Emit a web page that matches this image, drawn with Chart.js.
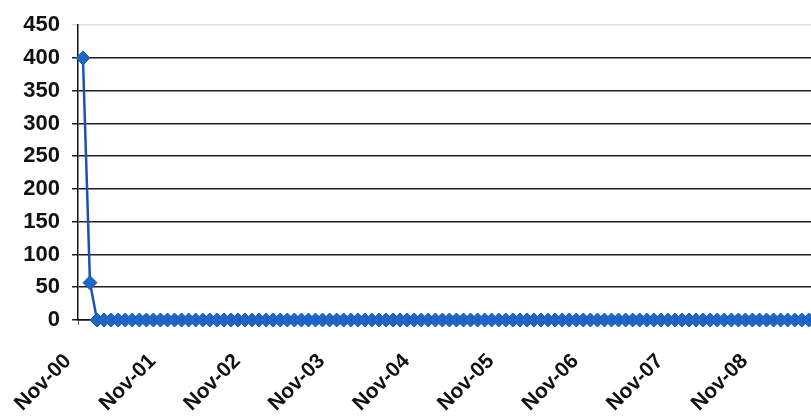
<!DOCTYPE html>
<html>
<head>
<meta charset="utf-8">
<script src="https://cdn.jsdelivr.net/npm/chart.js@4/dist/chart.umd.min.js"></script>
<style>
  html, body { margin: 0; padding: 0; background: #ffffff; overflow: hidden; }
  #wrap { width: 826px; height: 416px; position: relative; }
</style>
</head>
<body>
<div id="wrap"><canvas id="chart"></canvas></div>
<script>
// Yearly tick labels, one every 12 months starting Nov-00 (month index 0)
const tickLabels = ['Nov-00', 'Nov-01', 'Nov-02', 'Nov-03', 'Nov-04', 'Nov-05', 'Nov-06', 'Nov-07', 'Nov-08'];
const tickMonths = [0, 12, 24, 36, 48, 60, 72, 84, 96];

// Monthly readings, first one taken in late Nov-00
const readingDay = 22;
const values = [
  400, 57, 0, 0, 0, 0, 0, 0, 0, 0, 0, 0,
  0, 0, 0, 0, 0, 0, 0, 0, 0, 0, 0, 0,
  0, 0, 0, 0, 0, 0, 0, 0, 0, 0, 0, 0,
  0, 0, 0, 0, 0, 0, 0, 0, 0, 0, 0, 0,
  0, 0, 0, 0, 0, 0, 0, 0, 0, 0, 0, 0,
  0, 0, 0, 0, 0, 0, 0, 0, 0, 0, 0, 0,
  0, 0, 0, 0, 0, 0, 0, 0, 0, 0, 0, 0,
  0, 0, 0, 0, 0, 0, 0, 0, 0, 0, 0, 0,
  0, 0, 0, 0, 0, 0, 0, 0, 0
];

// Y axis tick values
const yTicks = [0, 50, 100, 150, 200, 250, 300, 350, 400, 450];

const points = values.map((v, i) => ({ x: i + (readingDay - 1) / 30, y: v }));

new Chart(document.getElementById('chart'), {
  type: 'line',
  data: {
    datasets: [{
      data: points,
      clip: false,
      borderColor: '#1f4fb0',
      borderWidth: 2.5,
      backgroundColor: '#1e66c8',
      pointStyle: 'rectRot',
      pointRadius: 7,
      pointBorderWidth: 1,
      pointBorderColor: '#1a56b4',
      pointBackgroundColor: '#1e66c8',
      tension: 0
    }]
  },
  options: {
    responsive: true,
    maintainAspectRatio: false,
    animation: false,
    layout: { padding: { top: 22, left: 0, right: 0, bottom: 0 } },
    plugins: { legend: { display: false }, tooltip: { enabled: false } },
    scales: {
      x: {
        type: 'linear',
        min: 0,
        max: 105,
        afterFit: s => { s.height = 96; },
        afterBuildTicks: s => { s.ticks = tickMonths.map(v => ({ value: v })); },
        grid: {
          drawOnChartArea: false,
          drawTicks: true,
          tickLength: 5,
          color: '#666666'
        },
        border: { display: true, color: '#111111', width: 1.5 },
        ticks: {
          autoSkip: false,
          maxRotation: 45,
          minRotation: 45,
          padding: 24,
          labelOffset: -10,
          color: '#111111',
          font: { family: 'Liberation Sans, Arial, sans-serif', size: 21, weight: 'bold' },
          callback: v => tickLabels[tickMonths.indexOf(v)]
        }
      },
      y: {
        min: 0,
        max: 450,
        afterFit: s => { s.width = 78; },
        afterBuildTicks: s => { s.ticks = yTicks.map(v => ({ value: v })); },
        grid: {
          drawTicks: true,
          tickLength: 6,
          lineWidth: 1.5,
          color: c => (c.tick && c.tick.value === 450) ? '#cfe2ee' : '#1e1e1e'
        },
        border: { display: true, color: '#111111', width: 1.5 },
        ticks: {
          padding: 12,
          color: '#111111',
          font: { family: 'Liberation Sans, Arial, sans-serif', size: 22, weight: 'bold' }
        }
      }
    }
  }
});
</script>
</body>
</html>
